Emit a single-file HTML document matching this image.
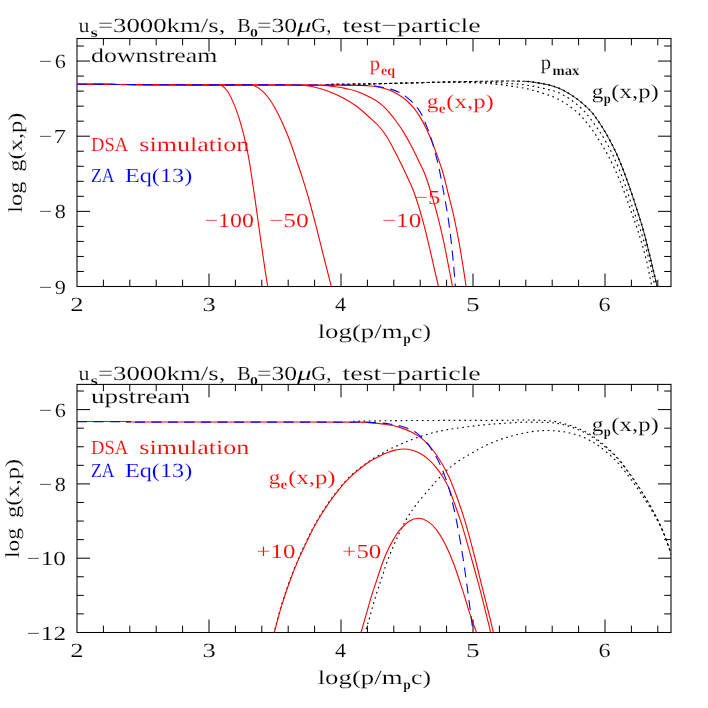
<!DOCTYPE html>
<html><head><meta charset="utf-8"><title>DSA test-particle spectra</title>
<style>html,body{margin:0;padding:0;background:#fff;}body{width:708px;height:708px;overflow:hidden;font-family:"Liberation Serif",serif;}svg{display:block;will-change:transform;transform:translateZ(0);}</style>
</head><body>
<svg width="708" height="708" viewBox="0 0 708 708" font-family="'Liberation Serif', serif" text-rendering="geometricPrecision">
<defs>
<clipPath id="ct"><rect x="77.00" y="38.50" width="594.00" height="248.00"/></clipPath>
<clipPath id="ctA"><rect x="77" y="38.6" width="448" height="247.9"/></clipPath>
<clipPath id="ctB"><rect x="525" y="38.6" width="146.3" height="247.9"/></clipPath>
<clipPath id="cb"><rect x="77.00" y="384.40" width="594.00" height="248.10"/></clipPath>
</defs>
<rect width="708" height="708" fill="#fff"/>
<text id="t0" x="78.53" y="31.90" font-size="20" fill="#000" stroke="#fff" stroke-width="0.15" textLength="10.95" lengthAdjust="spacingAndGlyphs">u</text>
<text id="t1" x="90.54" y="36.50" font-size="14" fill="#000" stroke="#fff" stroke-width="0.2" textLength="7.19" lengthAdjust="spacingAndGlyphs" font-weight="bold">s</text>
<text id="t2" x="97.98" y="31.90" font-size="20" fill="#000" stroke="#fff" stroke-width="0.15" textLength="127.45" lengthAdjust="spacingAndGlyphs">=3000km/s,</text>
<text id="t3" x="237.25" y="31.90" font-size="20" fill="#000" stroke="#fff" stroke-width="0.15" textLength="13.44" lengthAdjust="spacingAndGlyphs">B</text>
<text id="t4" x="250.12" y="36.90" font-size="12" fill="#000" stroke="#fff" stroke-width="0.2" textLength="7.93" lengthAdjust="spacingAndGlyphs" font-weight="bold">0</text>
<text id="t5" x="256.96" y="31.90" font-size="20" fill="#000" stroke="#fff" stroke-width="0.15" textLength="40.19" lengthAdjust="spacingAndGlyphs">=30</text>
<text id="t6" x="297.00" y="31.90" font-size="20" fill="#000" stroke="#fff" stroke-width="0.15" textLength="14.70" lengthAdjust="spacingAndGlyphs" font-style="italic">μ</text>
<text id="t7" x="311.33" y="31.90" font-size="20" fill="#000" stroke="#fff" stroke-width="0.15" textLength="20.01" lengthAdjust="spacingAndGlyphs">G,</text>
<text id="t8" x="342.59" y="31.90" font-size="20" fill="#000" stroke="#fff" stroke-width="0.15" textLength="138.12" lengthAdjust="spacingAndGlyphs">test−particle</text>
<text id="t9" x="78.53" y="380.40" font-size="20" fill="#000" stroke="#fff" stroke-width="0.15" textLength="10.95" lengthAdjust="spacingAndGlyphs">u</text>
<text id="t10" x="90.54" y="385.00" font-size="14" fill="#000" stroke="#fff" stroke-width="0.2" textLength="7.19" lengthAdjust="spacingAndGlyphs" font-weight="bold">s</text>
<text id="t11" x="97.98" y="380.40" font-size="20" fill="#000" stroke="#fff" stroke-width="0.15" textLength="127.45" lengthAdjust="spacingAndGlyphs">=3000km/s,</text>
<text id="t12" x="237.25" y="380.40" font-size="20" fill="#000" stroke="#fff" stroke-width="0.15" textLength="13.44" lengthAdjust="spacingAndGlyphs">B</text>
<text id="t13" x="250.12" y="385.40" font-size="12" fill="#000" stroke="#fff" stroke-width="0.2" textLength="7.93" lengthAdjust="spacingAndGlyphs" font-weight="bold">0</text>
<text id="t14" x="256.96" y="380.40" font-size="20" fill="#000" stroke="#fff" stroke-width="0.15" textLength="40.19" lengthAdjust="spacingAndGlyphs">=30</text>
<text id="t15" x="297.00" y="380.40" font-size="20" fill="#000" stroke="#fff" stroke-width="0.15" textLength="14.70" lengthAdjust="spacingAndGlyphs" font-style="italic">μ</text>
<text id="t16" x="311.33" y="380.40" font-size="20" fill="#000" stroke="#fff" stroke-width="0.15" textLength="20.01" lengthAdjust="spacingAndGlyphs">G,</text>
<text id="t17" x="342.59" y="380.40" font-size="20" fill="#000" stroke="#fff" stroke-width="0.15" textLength="138.12" lengthAdjust="spacingAndGlyphs">test−particle</text>
<text id="t18" x="317.70" y="337.90" font-size="20" fill="#000" stroke="#fff" stroke-width="0.15" textLength="84.82" lengthAdjust="spacingAndGlyphs">log(p/m</text>
<text id="t19" x="403.25" y="343.10" font-size="14" fill="#000" stroke="#fff" stroke-width="0.2" textLength="7.48" lengthAdjust="spacingAndGlyphs" font-weight="bold">p</text>
<text id="t20" x="411.10" y="337.90" font-size="20" fill="#000" stroke="#fff" stroke-width="0.15" textLength="19.90" lengthAdjust="spacingAndGlyphs">c)</text>
<text id="t21" x="77.00" y="311.10" font-size="20" fill="#000" stroke="#fff" stroke-width="0.15" textLength="13.31" lengthAdjust="spacingAndGlyphs" text-anchor="middle">2</text>
<text id="t22" x="209.29" y="311.10" font-size="20" fill="#000" stroke="#fff" stroke-width="0.15" textLength="13.31" lengthAdjust="spacingAndGlyphs" text-anchor="middle">3</text>
<text id="t23" x="340.52" y="311.10" font-size="20" fill="#000" stroke="#fff" stroke-width="0.15" textLength="11.09" lengthAdjust="spacingAndGlyphs" text-anchor="middle">4</text>
<text id="t24" x="472.73" y="311.10" font-size="20" fill="#000" stroke="#fff" stroke-width="0.15" textLength="13.67" lengthAdjust="spacingAndGlyphs" text-anchor="middle">5</text>
<text id="t25" x="604.59" y="311.10" font-size="20" fill="#000" stroke="#fff" stroke-width="0.15" textLength="12.10" lengthAdjust="spacingAndGlyphs" text-anchor="middle">6</text>
<text id="t26" x="317.70" y="684.00" font-size="20" fill="#000" stroke="#fff" stroke-width="0.15" textLength="84.82" lengthAdjust="spacingAndGlyphs">log(p/m</text>
<text id="t27" x="403.25" y="689.20" font-size="14" fill="#000" stroke="#fff" stroke-width="0.2" textLength="7.48" lengthAdjust="spacingAndGlyphs" font-weight="bold">p</text>
<text id="t28" x="411.10" y="684.00" font-size="20" fill="#000" stroke="#fff" stroke-width="0.15" textLength="19.90" lengthAdjust="spacingAndGlyphs">c)</text>
<text id="t29" x="77.00" y="657.20" font-size="20" fill="#000" stroke="#fff" stroke-width="0.15" textLength="13.31" lengthAdjust="spacingAndGlyphs" text-anchor="middle">2</text>
<text id="t30" x="209.29" y="657.20" font-size="20" fill="#000" stroke="#fff" stroke-width="0.15" textLength="13.31" lengthAdjust="spacingAndGlyphs" text-anchor="middle">3</text>
<text id="t31" x="340.52" y="657.20" font-size="20" fill="#000" stroke="#fff" stroke-width="0.15" textLength="11.09" lengthAdjust="spacingAndGlyphs" text-anchor="middle">4</text>
<text id="t32" x="472.73" y="657.20" font-size="20" fill="#000" stroke="#fff" stroke-width="0.15" textLength="13.67" lengthAdjust="spacingAndGlyphs" text-anchor="middle">5</text>
<text id="t33" x="604.59" y="657.20" font-size="20" fill="#000" stroke="#fff" stroke-width="0.15" textLength="12.10" lengthAdjust="spacingAndGlyphs" text-anchor="middle">6</text>
<text id="t34" x="22.40" y="212.68" font-size="20" fill="#000" stroke="#fff" stroke-width="0.15" textLength="30.99" lengthAdjust="spacingAndGlyphs" transform="rotate(-90 22.40 212.68)">log</text>
<text id="t35" x="22.40" y="171.73" font-size="20" fill="#000" stroke="#fff" stroke-width="0.15" textLength="59.28" lengthAdjust="spacingAndGlyphs" transform="rotate(-90 22.40 171.73)">g(x,p)</text>
<text id="t36" x="19.00" y="557.96" font-size="20" fill="#000" stroke="#fff" stroke-width="0.15" textLength="29.96" lengthAdjust="spacingAndGlyphs" transform="rotate(-90 19.00 557.96)">log</text>
<text id="t37" x="19.00" y="518.03" font-size="20" fill="#000" stroke="#fff" stroke-width="0.15" textLength="59.28" lengthAdjust="spacingAndGlyphs" transform="rotate(-90 19.00 518.03)">g(x,p)</text>
<text id="t38" x="65.98" y="68.05" font-size="20" fill="#000" stroke="#fff" stroke-width="0.15" textLength="11.11" lengthAdjust="spacingAndGlyphs" text-anchor="end">6</text>
<text id="t39" x="52.22" y="68.05" font-size="20" fill="#000" stroke="#fff" stroke-width="0.15" textLength="13.44" lengthAdjust="spacingAndGlyphs" text-anchor="end">−</text>
<text id="t40" x="66.04" y="143.20" font-size="20" fill="#000" stroke="#fff" stroke-width="0.15" textLength="12.22" lengthAdjust="spacingAndGlyphs" text-anchor="end">7</text>
<text id="t41" x="52.22" y="143.20" font-size="20" fill="#000" stroke="#fff" stroke-width="0.15" textLength="13.44" lengthAdjust="spacingAndGlyphs" text-anchor="end">−</text>
<text id="t42" x="65.96" y="218.35" font-size="20" fill="#000" stroke="#fff" stroke-width="0.15" textLength="11.11" lengthAdjust="spacingAndGlyphs" text-anchor="end">8</text>
<text id="t43" x="52.22" y="218.35" font-size="20" fill="#000" stroke="#fff" stroke-width="0.15" textLength="13.44" lengthAdjust="spacingAndGlyphs" text-anchor="end">−</text>
<text id="t44" x="65.97" y="293.50" font-size="20" fill="#000" stroke="#fff" stroke-width="0.15" textLength="11.11" lengthAdjust="spacingAndGlyphs" text-anchor="end">9</text>
<text id="t45" x="52.22" y="293.50" font-size="20" fill="#000" stroke="#fff" stroke-width="0.15" textLength="13.44" lengthAdjust="spacingAndGlyphs" text-anchor="end">−</text>
<text id="t46" x="65.98" y="416.60" font-size="20" fill="#000" stroke="#fff" stroke-width="0.15" textLength="11.11" lengthAdjust="spacingAndGlyphs" text-anchor="end">6</text>
<text id="t47" x="52.22" y="416.60" font-size="20" fill="#000" stroke="#fff" stroke-width="0.15" textLength="13.44" lengthAdjust="spacingAndGlyphs" text-anchor="end">−</text>
<text id="t48" x="65.96" y="490.90" font-size="20" fill="#000" stroke="#fff" stroke-width="0.15" textLength="11.11" lengthAdjust="spacingAndGlyphs" text-anchor="end">8</text>
<text id="t49" x="52.22" y="490.90" font-size="20" fill="#000" stroke="#fff" stroke-width="0.15" textLength="13.44" lengthAdjust="spacingAndGlyphs" text-anchor="end">−</text>
<text id="t50" x="65.93" y="565.20" font-size="20" fill="#000" stroke="#fff" stroke-width="0.15" textLength="25.18" lengthAdjust="spacingAndGlyphs" text-anchor="end">10</text>
<text id="t51" x="40.22" y="565.20" font-size="20" fill="#000" stroke="#fff" stroke-width="0.15" textLength="13.44" lengthAdjust="spacingAndGlyphs" text-anchor="end">−</text>
<text id="t52" x="66.09" y="639.50" font-size="20" fill="#000" stroke="#fff" stroke-width="0.15" textLength="25.35" lengthAdjust="spacingAndGlyphs" text-anchor="end">12</text>
<text id="t53" x="40.22" y="639.50" font-size="20" fill="#000" stroke="#fff" stroke-width="0.15" textLength="13.44" lengthAdjust="spacingAndGlyphs" text-anchor="end">−</text>
<text id="t54" x="91.08" y="61.50" font-size="20" fill="#000" stroke="#fff" stroke-width="0.15" textLength="126.23" lengthAdjust="spacingAndGlyphs">downstream</text>
<text id="t55" x="91.09" y="402.50" font-size="20" fill="#000" stroke="#fff" stroke-width="0.15" textLength="99.32" lengthAdjust="spacingAndGlyphs">upstream</text>
<text id="t56" x="91.05" y="151.10" font-size="20" fill="#ff0000" stroke="#fff" stroke-width="0.15" textLength="36.95" lengthAdjust="spacingAndGlyphs">DSA</text>
<text id="t57" x="139.28" y="151.10" font-size="20" fill="#ff0000" stroke="#fff" stroke-width="0.15" textLength="110.13" lengthAdjust="spacingAndGlyphs">simulation</text>
<text id="t58" x="91.02" y="181.60" font-size="20" fill="#0000ff" stroke="#fff" stroke-width="0.15" textLength="23.54" lengthAdjust="spacingAndGlyphs">ZA</text>
<text id="t59" x="124.97" y="181.60" font-size="20" fill="#0000ff" stroke="#fff" stroke-width="0.15" textLength="67.27" lengthAdjust="spacingAndGlyphs">Eq(13)</text>
<text id="t60" x="91.05" y="454.20" font-size="20" fill="#ff0000" stroke="#fff" stroke-width="0.15" textLength="36.95" lengthAdjust="spacingAndGlyphs">DSA</text>
<text id="t61" x="139.28" y="454.20" font-size="20" fill="#ff0000" stroke="#fff" stroke-width="0.15" textLength="110.13" lengthAdjust="spacingAndGlyphs">simulation</text>
<text id="t62" x="91.02" y="476.80" font-size="20" fill="#0000ff" stroke="#fff" stroke-width="0.15" textLength="23.54" lengthAdjust="spacingAndGlyphs">ZA</text>
<text id="t63" x="124.97" y="476.80" font-size="20" fill="#0000ff" stroke="#fff" stroke-width="0.15" textLength="67.27" lengthAdjust="spacingAndGlyphs">Eq(13)</text>
<text id="t64" x="204.67" y="226.80" font-size="20" fill="#ff0000" stroke="#fff" stroke-width="0.15" textLength="49.27" lengthAdjust="spacingAndGlyphs">−100</text>
<text id="t65" x="268.98" y="226.80" font-size="20" fill="#ff0000" stroke="#fff" stroke-width="0.15" textLength="39.90" lengthAdjust="spacingAndGlyphs">−50</text>
<text id="t66" x="381.95" y="226.80" font-size="20" fill="#ff0000" stroke="#fff" stroke-width="0.15" textLength="39.27" lengthAdjust="spacingAndGlyphs">−10</text>
<text id="t67" x="414.10" y="203.90" font-size="20" fill="#ff0000" stroke="#fff" stroke-width="0.15" textLength="26.39" lengthAdjust="spacingAndGlyphs">−5</text>
<text id="t68" x="369.75" y="69.50" font-size="20" fill="#ff0000" stroke="#fff" stroke-width="0.15" textLength="10.31" lengthAdjust="spacingAndGlyphs">p</text>
<text id="t69" x="380.96" y="74.60" font-size="14" fill="#ff0000" stroke="#fff" stroke-width="0.2" textLength="14.12" lengthAdjust="spacingAndGlyphs" font-weight="bold">eq</text>
<text id="t70" x="540.75" y="69.30" font-size="20" fill="#000" stroke="#fff" stroke-width="0.15" textLength="10.31" lengthAdjust="spacingAndGlyphs">p</text>
<text id="t71" x="552.43" y="74.60" font-size="14" fill="#000" stroke="#fff" stroke-width="0.2" textLength="26.91" lengthAdjust="spacingAndGlyphs" font-weight="bold">max</text>
<text id="t72" x="426.85" y="107.70" font-size="20" fill="#ff0000" stroke="#fff" stroke-width="0.15" textLength="11.69" lengthAdjust="spacingAndGlyphs">g</text>
<text id="t73" x="438.85" y="113.10" font-size="14" fill="#ff0000" stroke="#fff" stroke-width="0.2" textLength="6.82" lengthAdjust="spacingAndGlyphs" font-weight="bold">e</text>
<text id="t74" x="446.37" y="107.70" font-size="20" fill="#ff0000" stroke="#fff" stroke-width="0.15" textLength="47.37" lengthAdjust="spacingAndGlyphs">(x,p)</text>
<text id="t75" x="591.85" y="97.50" font-size="20" fill="#000" stroke="#fff" stroke-width="0.15" textLength="11.69" lengthAdjust="spacingAndGlyphs">g</text>
<text id="t76" x="603.82" y="102.90" font-size="14" fill="#000" stroke="#fff" stroke-width="0.2" textLength="7.01" lengthAdjust="spacingAndGlyphs" font-weight="bold">p</text>
<text id="t77" x="611.37" y="97.50" font-size="20" fill="#000" stroke="#fff" stroke-width="0.15" textLength="47.37" lengthAdjust="spacingAndGlyphs">(x,p)</text>
<text id="t78" x="268.68" y="483.90" font-size="20" fill="#ff0000" stroke="#fff" stroke-width="0.15" textLength="11.57" lengthAdjust="spacingAndGlyphs">g</text>
<text id="t79" x="280.61" y="489.30" font-size="14" fill="#ff0000" stroke="#fff" stroke-width="0.2" textLength="6.82" lengthAdjust="spacingAndGlyphs" font-weight="bold">e</text>
<text id="t80" x="288.16" y="483.90" font-size="20" fill="#ff0000" stroke="#fff" stroke-width="0.15" textLength="47.40" lengthAdjust="spacingAndGlyphs">(x,p)</text>
<text id="t81" x="591.85" y="430.70" font-size="20" fill="#000" stroke="#fff" stroke-width="0.15" textLength="11.69" lengthAdjust="spacingAndGlyphs">g</text>
<text id="t82" x="603.82" y="436.10" font-size="14" fill="#000" stroke="#fff" stroke-width="0.2" textLength="7.01" lengthAdjust="spacingAndGlyphs" font-weight="bold">p</text>
<text id="t83" x="611.37" y="430.70" font-size="20" fill="#000" stroke="#fff" stroke-width="0.15" textLength="47.37" lengthAdjust="spacingAndGlyphs">(x,p)</text>
<text id="t84" x="256.63" y="558.00" font-size="20" fill="#ff0000" stroke="#fff" stroke-width="0.15" textLength="38.73" lengthAdjust="spacingAndGlyphs">+10</text>
<text id="t85" x="342.37" y="558.00" font-size="20" fill="#ff0000" stroke="#fff" stroke-width="0.15" textLength="38.91" lengthAdjust="spacingAndGlyphs">+50</text>
<rect x="77.00" y="38.50" width="594.00" height="248.00" fill="none" stroke="#000" stroke-width="1.05"/>
<path d="M103.40 286.50 L103.40 279.70M103.40 38.50 L103.40 45.30M129.80 286.50 L129.80 279.70M129.80 38.50 L129.80 45.30M156.20 286.50 L156.20 279.70M156.20 38.50 L156.20 45.30M182.60 286.50 L182.60 279.70M182.60 38.50 L182.60 45.30M209.00 286.50 L209.00 273.50M209.00 38.50 L209.00 51.50M235.40 286.50 L235.40 279.70M235.40 38.50 L235.40 45.30M261.80 286.50 L261.80 279.70M261.80 38.50 L261.80 45.30M288.20 286.50 L288.20 279.70M288.20 38.50 L288.20 45.30M314.60 286.50 L314.60 279.70M314.60 38.50 L314.60 45.30M341.00 286.50 L341.00 273.50M341.00 38.50 L341.00 51.50M367.40 286.50 L367.40 279.70M367.40 38.50 L367.40 45.30M393.80 286.50 L393.80 279.70M393.80 38.50 L393.80 45.30M420.20 286.50 L420.20 279.70M420.20 38.50 L420.20 45.30M446.60 286.50 L446.60 279.70M446.60 38.50 L446.60 45.30M473.00 286.50 L473.00 273.50M473.00 38.50 L473.00 51.50M499.40 286.50 L499.40 279.70M499.40 38.50 L499.40 45.30M525.80 286.50 L525.80 279.70M525.80 38.50 L525.80 45.30M552.20 286.50 L552.20 279.70M552.20 38.50 L552.20 45.30M578.60 286.50 L578.60 279.70M578.60 38.50 L578.60 45.30M605.00 286.50 L605.00 273.50M605.00 38.50 L605.00 51.50M631.40 286.50 L631.40 279.70M631.40 38.50 L631.40 45.30M657.80 286.50 L657.80 279.70M657.80 38.50 L657.80 45.30M77.00 271.47 L83.80 271.47M671.00 271.47 L664.20 271.47M77.00 256.44 L83.80 256.44M671.00 256.44 L664.20 256.44M77.00 241.41 L83.80 241.41M671.00 241.41 L664.20 241.41M77.00 226.38 L83.80 226.38M671.00 226.38 L664.20 226.38M77.00 211.35 L90.00 211.35M671.00 211.35 L658.00 211.35M77.00 196.32 L83.80 196.32M671.00 196.32 L664.20 196.32M77.00 181.29 L83.80 181.29M671.00 181.29 L664.20 181.29M77.00 166.26 L83.80 166.26M671.00 166.26 L664.20 166.26M77.00 151.23 L83.80 151.23M671.00 151.23 L664.20 151.23M77.00 136.20 L90.00 136.20M671.00 136.20 L658.00 136.20M77.00 121.17 L83.80 121.17M671.00 121.17 L664.20 121.17M77.00 106.14 L83.80 106.14M671.00 106.14 L664.20 106.14M77.00 91.11 L83.80 91.11M671.00 91.11 L664.20 91.11M77.00 76.08 L83.80 76.08M671.00 76.08 L664.20 76.08M77.00 61.05 L90.00 61.05M671.00 61.05 L658.00 61.05M77.00 46.02 L83.80 46.02M671.00 46.02 L664.20 46.02" stroke="#000" stroke-width="1.00" fill="none"/>
<rect x="77.00" y="384.40" width="594.00" height="248.10" fill="none" stroke="#000" stroke-width="1.05"/>
<path d="M103.40 632.50 L103.40 625.70M103.40 384.40 L103.40 391.20M129.80 632.50 L129.80 625.70M129.80 384.40 L129.80 391.20M156.20 632.50 L156.20 625.70M156.20 384.40 L156.20 391.20M182.60 632.50 L182.60 625.70M182.60 384.40 L182.60 391.20M209.00 632.50 L209.00 619.50M209.00 384.40 L209.00 397.40M235.40 632.50 L235.40 625.70M235.40 384.40 L235.40 391.20M261.80 632.50 L261.80 625.70M261.80 384.40 L261.80 391.20M288.20 632.50 L288.20 625.70M288.20 384.40 L288.20 391.20M314.60 632.50 L314.60 625.70M314.60 384.40 L314.60 391.20M341.00 632.50 L341.00 619.50M341.00 384.40 L341.00 397.40M367.40 632.50 L367.40 625.70M367.40 384.40 L367.40 391.20M393.80 632.50 L393.80 625.70M393.80 384.40 L393.80 391.20M420.20 632.50 L420.20 625.70M420.20 384.40 L420.20 391.20M446.60 632.50 L446.60 625.70M446.60 384.40 L446.60 391.20M473.00 632.50 L473.00 619.50M473.00 384.40 L473.00 397.40M499.40 632.50 L499.40 625.70M499.40 384.40 L499.40 391.20M525.80 632.50 L525.80 625.70M525.80 384.40 L525.80 391.20M552.20 632.50 L552.20 625.70M552.20 384.40 L552.20 391.20M578.60 632.50 L578.60 625.70M578.60 384.40 L578.60 391.20M605.00 632.50 L605.00 619.50M605.00 384.40 L605.00 397.40M631.40 632.50 L631.40 625.70M631.40 384.40 L631.40 391.20M657.80 632.50 L657.80 625.70M657.80 384.40 L657.80 391.20M77.00 613.92 L83.80 613.92M671.00 613.92 L664.20 613.92M77.00 595.35 L83.80 595.35M671.00 595.35 L664.20 595.35M77.00 576.77 L83.80 576.77M671.00 576.77 L664.20 576.77M77.00 558.20 L90.00 558.20M671.00 558.20 L658.00 558.20M77.00 539.62 L83.80 539.62M671.00 539.62 L664.20 539.62M77.00 521.05 L83.80 521.05M671.00 521.05 L664.20 521.05M77.00 502.48 L83.80 502.48M671.00 502.48 L664.20 502.48M77.00 483.90 L90.00 483.90M671.00 483.90 L658.00 483.90M77.00 465.33 L83.80 465.33M671.00 465.33 L664.20 465.33M77.00 446.75 L83.80 446.75M671.00 446.75 L664.20 446.75M77.00 428.18 L83.80 428.18M671.00 428.18 L664.20 428.18M77.00 409.60 L90.00 409.60M671.00 409.60 L658.00 409.60M77.00 391.02 L83.80 391.02M671.00 391.02 L664.20 391.02" stroke="#000" stroke-width="1.00" fill="none"/>
<path d="M326.00 84.50 C330.00 84.45 342.67 84.30 350.00 84.20 C357.33 84.10 361.67 84.07 370.00 83.90 C378.33 83.73 388.33 83.48 400.00 83.20 C411.67 82.92 430.00 82.40 440.00 82.20 C450.00 82.00 453.33 82.00 460.00 82.00 C466.67 82.00 474.78 82.13 480.00 82.20 C485.22 82.27 487.53 82.27 491.30 82.40 C495.07 82.53 498.83 82.77 502.60 83.00 C506.37 83.23 510.13 83.48 513.90 83.80 C517.67 84.12 521.43 84.38 525.20 84.90 C528.97 85.42 532.73 86.15 536.50 86.90 C540.27 87.65 544.77 88.68 547.80 89.40 C550.83 90.12 552.78 90.58 554.70 91.20 C556.62 91.82 557.75 92.38 559.30 93.10 C560.85 93.82 562.45 94.65 564.00 95.50 C565.55 96.35 567.12 97.25 568.60 98.20 C570.08 99.15 571.48 100.13 572.90 101.20 C574.32 102.27 575.68 103.40 577.10 104.60 C578.52 105.80 580.05 107.13 581.40 108.40 C582.75 109.67 584.00 110.87 585.20 112.20 C586.40 113.53 587.48 114.98 588.60 116.40 C589.72 117.82 590.85 119.28 591.90 120.70 C592.95 122.12 593.87 123.48 594.90 124.90 C595.93 126.32 597.08 127.75 598.10 129.20 C599.12 130.65 600.05 132.12 601.00 133.60 C601.95 135.08 601.70 134.28 603.80 138.10 C605.90 141.92 610.23 149.18 613.60 156.50 C616.97 163.82 620.73 173.17 624.00 182.00 C627.27 190.83 630.28 200.93 633.20 209.50 C636.12 218.07 638.90 225.13 641.50 233.40 C644.10 241.67 646.57 250.25 648.80 259.10 C651.03 267.95 653.53 280.52 654.90 286.50 C656.27 292.48 656.65 293.58 657.00 295.00" fill="none" stroke="#000" stroke-width="1.15" stroke-dasharray="1.7 3.6" clip-path="url(#ct)"/>
<path d="M326.00 84.50 C330.00 84.45 342.67 84.30 350.00 84.20 C357.33 84.10 361.67 84.07 370.00 83.90 C378.33 83.73 388.33 83.48 400.00 83.20 C411.67 82.92 430.00 82.33 440.00 82.20 C450.00 82.07 453.33 82.27 460.00 82.40 C466.67 82.53 474.78 82.77 480.00 83.00 C485.22 83.23 487.53 83.48 491.30 83.80 C495.07 84.12 498.83 84.45 502.60 84.90 C506.37 85.35 510.13 85.92 513.90 86.50 C517.67 87.08 521.43 87.62 525.20 88.40 C528.97 89.18 532.73 90.12 536.50 91.20 C540.27 92.28 544.70 93.83 547.80 94.90 C550.90 95.97 553.03 96.72 555.10 97.60 C557.17 98.48 558.58 99.32 560.20 100.20 C561.82 101.08 563.32 101.97 564.80 102.90 C566.28 103.83 567.68 104.75 569.10 105.80 C570.52 106.85 571.90 108.07 573.30 109.20 C574.70 110.33 576.15 111.40 577.50 112.60 C578.85 113.80 580.20 115.12 581.40 116.40 C582.60 117.68 583.58 118.98 584.70 120.30 C585.82 121.62 586.97 122.90 588.10 124.30 C589.23 125.70 590.43 127.25 591.50 128.70 C592.57 130.15 593.47 131.42 594.50 133.00 C595.53 134.58 595.40 134.38 597.70 138.20 C600.00 142.02 604.52 148.60 608.30 155.90 C612.08 163.20 616.70 173.07 620.40 182.00 C624.10 190.93 627.45 200.93 630.50 209.50 C633.55 218.07 636.10 225.13 638.70 233.40 C641.30 241.67 643.90 250.25 646.10 259.10 C648.30 267.95 650.58 280.52 651.90 286.50 C653.22 292.48 653.65 293.58 654.00 295.00" fill="none" stroke="#000" stroke-width="1.15" stroke-dasharray="1.7 3.6" clip-path="url(#ct)"/>
<path d="M326.00 84.50 C330.00 84.45 342.67 84.30 350.00 84.20 C357.33 84.10 361.67 84.07 370.00 83.90 C378.33 83.73 388.33 83.48 400.00 83.20 C411.67 82.92 426.67 82.52 440.00 82.20 C453.33 81.88 469.57 81.48 480.00 81.30 C490.43 81.12 495.07 81.10 502.60 81.10 C510.13 81.10 519.55 81.03 525.20 81.30 C530.85 81.57 532.73 82.13 536.50 82.70 C540.27 83.27 544.13 83.80 547.80 84.70 C551.47 85.60 555.32 86.83 558.50 88.10 C561.68 89.37 564.08 90.68 566.90 92.30 C569.72 93.92 572.57 95.75 575.40 97.80 C578.23 99.85 581.07 102.05 583.90 104.60 C586.73 107.15 589.58 109.72 592.40 113.10 C595.22 116.48 598.08 120.72 600.80 124.90 C603.52 129.08 605.92 133.03 608.70 138.20 C611.48 143.37 614.33 148.60 617.50 155.90 C620.67 163.20 624.47 173.07 627.70 182.00 C630.93 190.93 634.15 200.93 636.90 209.50 C639.65 218.07 641.92 225.13 644.20 233.40 C646.48 241.67 648.45 250.25 650.60 259.10 C652.75 267.95 655.70 280.52 657.10 286.50 C658.50 292.48 658.68 293.58 659.00 295.00" fill="none" stroke="#000" stroke-width="1.05" stroke-dasharray="3.2 2.1" clip-path="url(#ctA)"/>
<path d="M326.00 84.50 C330.00 84.45 342.67 84.30 350.00 84.20 C357.33 84.10 361.67 84.07 370.00 83.90 C378.33 83.73 388.33 83.48 400.00 83.20 C411.67 82.92 426.67 82.52 440.00 82.20 C453.33 81.88 469.57 81.48 480.00 81.30 C490.43 81.12 495.07 81.10 502.60 81.10 C510.13 81.10 519.55 81.03 525.20 81.30 C530.85 81.57 532.73 82.13 536.50 82.70 C540.27 83.27 544.13 83.80 547.80 84.70 C551.47 85.60 555.32 86.83 558.50 88.10 C561.68 89.37 564.08 90.68 566.90 92.30 C569.72 93.92 572.57 95.75 575.40 97.80 C578.23 99.85 581.07 102.05 583.90 104.60 C586.73 107.15 589.58 109.72 592.40 113.10 C595.22 116.48 598.08 120.72 600.80 124.90 C603.52 129.08 605.92 133.03 608.70 138.20 C611.48 143.37 614.33 148.60 617.50 155.90 C620.67 163.20 624.47 173.07 627.70 182.00 C630.93 190.93 634.15 200.93 636.90 209.50 C639.65 218.07 641.92 225.13 644.20 233.40 C646.48 241.67 648.45 250.25 650.60 259.10 C652.75 267.95 655.70 280.52 657.10 286.50 C658.50 292.48 658.68 293.58 659.00 295.00" fill="none" stroke="#000" stroke-width="0.90" clip-path="url(#ctB)"/>
<path d="M326.00 84.50 C330.00 84.45 342.67 84.30 350.00 84.20 C357.33 84.10 361.67 84.07 370.00 83.90 C378.33 83.73 388.33 83.48 400.00 83.20 C411.67 82.92 426.67 82.52 440.00 82.20 C453.33 81.88 469.57 81.48 480.00 81.30 C490.43 81.12 495.07 81.10 502.60 81.10 C510.13 81.10 519.55 81.03 525.20 81.30 C530.85 81.57 532.73 82.13 536.50 82.70 C540.27 83.27 544.13 83.80 547.80 84.70 C551.47 85.60 555.32 86.83 558.50 88.10 C561.68 89.37 564.08 90.68 566.90 92.30 C569.72 93.92 572.57 95.75 575.40 97.80 C578.23 99.85 581.07 102.05 583.90 104.60 C586.73 107.15 589.58 109.72 592.40 113.10 C595.22 116.48 598.08 120.72 600.80 124.90 C603.52 129.08 605.92 133.03 608.70 138.20 C611.48 143.37 614.33 148.60 617.50 155.90 C620.67 163.20 624.47 173.07 627.70 182.00 C630.93 190.93 634.15 200.93 636.90 209.50 C639.65 218.07 641.92 225.13 644.20 233.40 C646.48 241.67 648.45 250.25 650.60 259.10 C652.75 267.95 655.70 280.52 657.10 286.50 C658.50 292.48 658.68 293.58 659.00 295.00" fill="none" stroke="#000" stroke-width="1.60" stroke-dasharray="1.7 3.6" clip-path="url(#ctB)"/>
<path d="M77.00 84.20 C82.50 84.23 97.83 84.32 110.00 84.40 C122.17 84.48 132.50 84.62 150.00 84.70 C167.50 84.78 203.13 84.80 215.00 84.89 C226.87 84.97 219.12 84.15 221.20 85.20 C223.28 86.25 225.38 88.08 227.50 91.20 C229.62 94.32 231.95 99.32 233.90 103.90 C235.85 108.48 237.62 113.75 239.20 118.70 C240.78 123.65 241.98 127.95 243.40 133.60 C244.82 139.25 246.48 146.53 247.70 152.60 C248.92 158.67 249.42 161.80 250.70 170.00 C251.98 178.20 253.73 190.15 255.40 201.80 C257.07 213.45 259.10 228.60 260.70 239.90 C262.30 251.20 263.83 261.83 265.00 269.60 C266.17 277.37 267.03 282.27 267.70 286.50 C268.37 290.73 268.78 293.58 269.00 295.00" fill="none" stroke="#ff0000" stroke-width="1.10" clip-path="url(#ct)"/>
<path d="M77.00 84.20 C82.50 84.23 97.83 84.32 110.00 84.40 C122.17 84.48 131.67 84.62 150.00 84.70 C168.33 84.78 204.17 84.86 220.00 84.90 C235.83 84.94 239.50 84.90 245.00 84.95 C250.50 85.00 250.27 84.34 253.00 85.20 C255.73 86.06 258.58 87.68 261.40 90.10 C264.22 92.52 267.07 95.63 269.90 99.70 C272.73 103.77 275.93 109.73 278.40 114.50 C280.87 119.27 282.58 123.35 284.70 128.30 C286.82 133.25 288.97 138.38 291.10 144.20 C293.23 150.02 295.77 158.07 297.50 163.20 C299.23 168.33 299.68 169.28 301.50 175.00 C303.32 180.72 305.83 188.45 308.40 197.50 C310.97 206.55 314.25 219.05 316.90 229.30 C319.55 239.55 321.90 249.47 324.30 259.00 C326.70 268.53 329.77 280.50 331.30 286.50 C332.83 292.50 333.13 293.58 333.50 295.00" fill="none" stroke="#ff0000" stroke-width="1.10" clip-path="url(#ct)"/>
<path d="M77.00 84.20 C82.50 84.23 97.83 84.32 110.00 84.40 C122.17 84.48 131.67 84.62 150.00 84.70 C168.33 84.78 196.67 84.84 220.00 84.90 C243.33 84.96 275.97 84.95 290.00 85.03 C304.03 85.11 300.18 85.07 304.20 85.40 C308.22 85.73 310.10 86.03 314.10 87.00 C318.10 87.97 323.48 89.43 328.20 91.20 C332.92 92.97 337.68 95.08 342.40 97.60 C347.12 100.12 351.80 102.83 356.50 106.30 C361.20 109.77 366.68 114.87 370.60 118.40 C374.52 121.93 377.25 124.35 380.00 127.50 C382.75 130.65 384.75 133.55 387.10 137.30 C389.45 141.05 391.75 145.55 394.10 150.00 C396.45 154.45 399.15 159.83 401.20 164.00 C403.25 168.17 404.28 170.33 406.40 175.00 C408.52 179.67 411.23 184.63 413.90 192.00 C416.57 199.37 419.85 210.15 422.40 219.20 C424.95 228.25 427.23 238.12 429.20 246.30 C431.17 254.48 432.65 261.60 434.20 268.30 C435.75 275.00 437.45 282.05 438.50 286.50 C439.55 290.95 440.17 293.58 440.50 295.00" fill="none" stroke="#ff0000" stroke-width="1.10" clip-path="url(#ct)"/>
<path d="M77.00 84.20 C82.50 84.23 97.83 84.32 110.00 84.40 C122.17 84.48 131.67 84.62 150.00 84.70 C168.33 84.78 195.00 84.84 220.00 84.90 C245.00 84.96 283.00 84.98 300.00 85.05 C317.00 85.12 316.07 85.01 322.00 85.30 C327.93 85.59 331.60 86.25 335.60 86.80 C339.60 87.35 342.52 87.85 346.00 88.60 C349.48 89.35 352.40 89.80 356.50 91.30 C360.60 92.80 366.68 95.58 370.60 97.60 C374.52 99.62 377.02 101.05 380.00 103.40 C382.98 105.75 385.68 108.55 388.50 111.70 C391.32 114.85 394.32 118.77 396.90 122.30 C399.48 125.83 401.63 129.02 404.00 132.90 C406.37 136.78 408.75 141.13 411.10 145.60 C413.45 150.07 415.75 154.80 418.10 159.70 C420.45 164.60 423.08 169.62 425.20 175.00 C427.32 180.38 428.73 185.20 430.80 192.00 C432.87 198.80 435.47 207.60 437.60 215.80 C439.73 224.00 441.77 232.73 443.60 241.20 C445.43 249.67 447.12 259.05 448.60 266.60 C450.08 274.15 451.57 281.77 452.50 286.50 C453.43 291.23 453.92 293.58 454.20 295.00" fill="none" stroke="#ff0000" stroke-width="1.10" clip-path="url(#ct)"/>
<path d="M77.00 84.20 C82.50 84.23 97.83 84.32 110.00 84.40 C122.17 84.48 131.67 84.62 150.00 84.70 C168.33 84.78 195.00 84.84 220.00 84.90 C245.00 84.96 285.00 85.02 300.00 85.05 C315.00 85.08 303.33 85.04 310.00 85.05 C316.67 85.07 331.47 85.08 340.00 85.15 C348.53 85.22 356.10 85.36 361.20 85.50 C366.30 85.64 367.47 85.68 370.60 86.00 C373.73 86.32 377.02 86.77 380.00 87.40 C382.98 88.03 385.68 88.73 388.50 89.80 C391.32 90.87 394.08 92.18 396.90 93.80 C399.72 95.42 402.57 97.10 405.40 99.50 C408.23 101.90 411.30 105.02 413.90 108.20 C416.50 111.38 418.88 115.10 421.00 118.60 C423.12 122.10 424.72 125.20 426.60 129.20 C428.48 133.20 430.53 138.20 432.30 142.60 C434.07 147.00 435.80 151.73 437.20 155.60 C438.60 159.47 439.63 162.57 440.70 165.80 C441.77 169.03 442.42 170.63 443.60 175.00 C444.78 179.37 446.12 185.20 447.80 192.00 C449.48 198.80 451.87 207.60 453.70 215.80 C455.53 224.00 457.23 232.73 458.80 241.20 C460.37 249.67 461.88 259.05 463.10 266.60 C464.32 274.15 465.38 281.77 466.10 286.50 C466.82 291.23 467.18 293.58 467.40 295.00" fill="none" stroke="#ff0000" stroke-width="1.10" clip-path="url(#ct)"/>
<path d="M77.00 84.20 C82.50 84.23 97.83 84.32 110.00 84.40 C122.17 84.48 135.00 84.63 150.00 84.70 C165.00 84.77 168.33 84.79 200.00 84.84 C231.67 84.89 313.13 84.92 340.00 85.00 C366.87 85.08 355.37 85.13 361.20 85.30 C367.03 85.47 370.10 85.37 375.00 86.00 C379.90 86.63 386.47 87.98 390.60 89.10 C394.73 90.22 397.10 91.32 399.80 92.70 C402.50 94.08 404.57 95.68 406.80 97.40 C409.03 99.12 411.32 101.08 413.20 103.00 C415.08 104.92 416.57 106.73 418.10 108.90 C419.63 111.07 421.15 113.53 422.40 116.00 C423.65 118.47 424.55 121.12 425.60 123.70 C426.65 126.28 427.77 129.02 428.70 131.50 C429.63 133.98 430.37 136.02 431.20 138.60 C432.03 141.18 432.93 144.30 433.70 147.00 C434.47 149.70 435.10 152.08 435.80 154.80 C436.50 157.52 437.27 160.60 437.90 163.30 C438.53 166.00 439.02 168.22 439.60 171.00 C440.18 173.78 440.73 176.50 441.40 180.00 C442.07 183.50 442.53 186.03 443.60 192.00 C444.67 197.97 446.53 207.60 447.80 215.80 C449.07 224.00 450.22 232.73 451.20 241.20 C452.18 249.67 453.00 259.05 453.70 266.60 C454.40 274.15 455.02 281.77 455.40 286.50 C455.78 291.23 455.90 293.58 456.00 295.00" fill="none" stroke="#0000ff" stroke-width="1.10" stroke-dasharray="10 6.5" clip-path="url(#ct)"/>
<path d="M353.00 421.30 C355.83 421.25 362.17 421.12 370.00 421.00 C377.83 420.88 386.67 420.70 400.00 420.60 C413.33 420.50 433.33 420.43 450.00 420.40 C466.67 420.37 487.43 420.47 500.00 420.40 C512.57 420.33 516.92 419.90 525.40 420.00 C533.88 420.10 544.53 420.40 550.90 421.00 C557.27 421.60 559.37 422.50 563.60 423.60 C567.83 424.70 572.07 425.92 576.30 427.60 C580.53 429.28 585.08 431.38 589.00 433.70 C592.92 436.02 595.37 437.85 599.80 441.50 C604.23 445.15 610.67 450.32 615.60 455.60 C620.53 460.88 625.12 467.33 629.40 473.20 C633.68 479.07 637.35 484.52 641.30 490.80 C645.25 497.08 649.48 504.17 653.10 510.90 C656.72 517.63 660.02 524.12 663.00 531.20 C665.98 538.28 668.83 547.27 671.00 553.40 C673.17 559.53 675.17 565.57 676.00 568.00" fill="none" stroke="#000" stroke-width="1.10" stroke-dasharray="1.7 3.6" clip-path="url(#cb)"/>
<path d="M265.80 660.00 C267.15 655.45 271.37 641.62 273.90 632.70 C276.43 623.78 278.40 615.12 281.00 606.50 C283.60 597.88 286.68 588.78 289.50 581.00 C292.32 573.22 295.08 566.40 297.90 559.80 C300.72 553.20 303.57 547.30 306.40 541.40 C309.23 535.50 311.60 530.28 314.90 524.40 C318.20 518.52 322.43 511.75 326.20 506.10 C329.97 500.45 333.73 495.23 337.50 490.50 C341.27 485.77 345.03 481.48 348.80 477.70 C352.57 473.92 356.33 470.80 360.10 467.80 C363.87 464.80 367.70 462.10 371.40 459.70 C375.10 457.30 379.00 455.28 382.30 453.40 C385.60 451.52 387.37 450.25 391.20 448.40 C395.03 446.55 400.60 444.23 405.30 442.30 C410.00 440.37 414.68 438.42 419.40 436.80 C424.12 435.18 428.88 433.80 433.60 432.60 C438.32 431.40 442.52 430.50 447.70 429.60 C452.88 428.70 459.03 427.97 464.70 427.20 C470.37 426.43 475.82 425.60 481.70 425.00 C487.58 424.40 492.72 424.07 500.00 423.60 C507.28 423.13 516.92 422.35 525.40 422.20 C533.88 422.05 544.53 422.27 550.90 422.70 C557.27 423.13 559.37 423.77 563.60 424.80 C567.83 425.83 572.07 427.20 576.30 428.90 C580.53 430.60 585.08 432.72 589.00 435.00 C592.92 437.28 595.37 439.03 599.80 442.60 C604.23 446.17 610.67 451.20 615.60 456.40 C620.53 461.60 625.12 468.00 629.40 473.80 C633.68 479.60 637.35 484.97 641.30 491.20 C645.25 497.43 649.48 504.50 653.10 511.20 C656.72 517.90 660.02 524.35 663.00 531.40 C665.98 538.45 668.83 547.40 671.00 553.50 C673.17 559.60 675.17 565.58 676.00 568.00" fill="none" stroke="#000" stroke-width="1.10" stroke-dasharray="1.7 3.6" clip-path="url(#cb)"/>
<path d="M358.00 660.00 C359.20 655.45 363.15 640.18 365.20 632.70 C367.25 625.22 368.52 621.32 370.30 615.10 C372.08 608.88 374.02 601.52 375.90 595.40 C377.78 589.28 379.72 584.05 381.60 578.40 C383.48 572.75 384.82 567.83 387.20 561.50 C389.58 555.17 392.75 547.35 395.90 540.40 C399.05 533.45 402.70 525.77 406.10 519.80 C409.50 513.83 412.20 510.00 416.30 504.60 C420.40 499.20 426.65 492.10 430.70 487.40 C434.75 482.70 437.53 479.60 440.60 476.40 C443.67 473.20 446.03 470.80 449.10 468.20 C452.17 465.60 455.27 463.30 459.00 460.80 C462.73 458.30 467.15 455.70 471.50 453.20 C475.85 450.70 480.35 448.07 485.10 445.80 C489.85 443.53 495.40 441.27 500.00 439.60 C504.60 437.93 508.47 436.95 512.70 435.80 C516.93 434.65 521.17 433.52 525.40 432.70 C529.63 431.88 533.85 431.25 538.10 430.90 C542.35 430.55 546.65 430.45 550.90 430.60 C555.15 430.75 559.37 431.12 563.60 431.80 C567.83 432.48 572.07 433.33 576.30 434.70 C580.53 436.07 585.08 438.00 589.00 440.00 C592.92 442.00 595.37 443.28 599.80 446.70 C604.23 450.12 610.67 455.40 615.60 460.50 C620.53 465.60 625.12 471.70 629.40 477.30 C633.68 482.90 637.35 488.17 641.30 494.10 C645.25 500.03 649.48 506.55 653.10 512.90 C656.72 519.25 660.02 525.38 663.00 532.20 C665.98 539.02 668.83 547.83 671.00 553.80 C673.17 559.77 675.17 565.63 676.00 568.00" fill="none" stroke="#000" stroke-width="1.10" stroke-dasharray="1.7 3.6" clip-path="url(#cb)"/>
<path d="M77.00 421.50 C85.50 421.50 117.50 421.43 128.00 421.50 C138.50 421.57 111.33 421.87 140.00 421.95 C168.67 422.03 263.33 421.95 300.00 421.98 C336.67 422.01 348.33 422.05 360.00 422.15 C371.67 422.25 365.98 422.28 370.00 422.60 C374.02 422.93 379.40 423.38 384.10 424.10 C388.80 424.82 393.48 425.48 398.20 426.90 C402.92 428.32 408.15 430.38 412.40 432.60 C416.65 434.82 420.17 437.13 423.70 440.20 C427.23 443.27 430.55 447.08 433.60 451.00 C436.65 454.92 439.42 459.32 442.00 463.70 C444.58 468.08 446.65 471.83 449.10 477.30 C451.55 482.77 454.02 489.07 456.70 496.50 C459.38 503.93 462.37 512.48 465.20 521.90 C468.03 531.32 470.88 542.17 473.70 553.00 C476.52 563.83 479.52 576.55 482.10 586.90 C484.68 597.25 487.32 607.47 489.20 615.10 C491.08 622.73 491.77 625.22 493.40 632.70 C495.03 640.18 498.07 655.45 499.00 660.00" fill="none" stroke="#ff0000" stroke-width="1.10" clip-path="url(#cb)"/>
<path d="M266.00 660.00 C267.37 655.45 271.65 641.58 274.20 632.70 C276.75 623.82 278.70 615.28 281.30 606.70 C283.90 598.12 286.98 588.97 289.80 581.20 C292.62 573.43 295.38 566.68 298.20 560.10 C301.02 553.52 303.87 547.60 306.70 541.70 C309.53 535.80 311.90 530.58 315.20 524.70 C318.50 518.82 322.73 512.05 326.50 506.40 C330.27 500.75 334.03 495.52 337.80 490.80 C341.57 486.08 345.33 481.87 349.10 478.10 C352.87 474.33 356.63 471.17 360.40 468.20 C364.17 465.23 367.93 462.60 371.70 460.30 C375.47 458.00 379.95 455.83 383.00 454.40 C386.05 452.97 387.93 452.42 390.00 451.70 C392.07 450.98 393.08 450.55 395.40 450.10 C397.72 449.65 401.07 448.97 403.90 449.00 C406.73 449.03 409.58 449.50 412.40 450.30 C415.22 451.10 417.98 452.17 420.80 453.80 C423.62 455.43 426.70 457.75 429.30 460.10 C431.90 462.45 434.05 464.95 436.40 467.90 C438.75 470.85 441.28 474.35 443.40 477.80 C445.52 481.25 447.50 485.02 449.10 488.60 C450.70 492.18 450.88 493.28 453.00 499.30 C455.12 505.32 458.83 515.28 461.80 524.70 C464.77 534.12 467.88 545.43 470.80 555.80 C473.72 566.17 476.70 577.02 479.30 586.90 C481.90 596.78 484.52 607.47 486.40 615.10 C488.28 622.73 489.17 625.22 490.60 632.70 C492.03 640.18 494.27 655.45 495.00 660.00" fill="none" stroke="#ff0000" stroke-width="1.10" clip-path="url(#cb)"/>
<path d="M354.00 660.00 C355.17 655.45 359.00 640.18 361.00 632.70 C363.00 625.22 364.22 621.32 366.00 615.10 C367.78 608.88 369.82 601.52 371.70 595.40 C373.58 589.28 375.42 584.05 377.30 578.40 C379.18 572.75 381.12 566.50 383.00 561.50 C384.88 556.50 386.77 552.22 388.60 548.40 C390.43 544.58 392.22 541.57 394.00 538.60 C395.78 535.63 396.72 533.53 399.30 530.60 C401.88 527.67 406.22 523.05 409.50 521.00 C412.78 518.95 415.83 518.15 419.00 518.30 C422.17 518.45 425.52 519.88 428.50 521.90 C431.48 523.92 434.08 526.63 436.90 530.40 C439.72 534.17 442.57 538.85 445.40 544.50 C448.23 550.15 451.07 556.77 453.90 564.30 C456.73 571.83 459.82 581.70 462.40 589.70 C464.98 597.70 467.52 606.48 469.40 612.30 C471.28 618.12 472.52 621.20 473.70 624.60 C474.88 628.00 474.62 626.80 476.50 632.70 C478.38 638.60 483.58 655.45 485.00 660.00" fill="none" stroke="#ff0000" stroke-width="1.10" clip-path="url(#cb)"/>
<path d="M77.00 421.65 C85.50 421.65 117.50 421.57 128.00 421.65 C138.50 421.72 111.33 422.02 140.00 422.10 C168.67 422.18 263.33 422.10 300.00 422.13 C336.67 422.16 346.92 422.19 360.00 422.30 C373.08 422.41 373.30 422.47 378.50 422.80 C383.70 423.13 387.55 423.77 391.20 424.30 C394.85 424.83 397.58 425.32 400.40 426.00 C403.22 426.68 405.52 427.33 408.10 428.40 C410.68 429.47 413.65 430.92 415.90 432.40 C418.15 433.88 419.60 435.38 421.60 437.30 C423.60 439.22 426.15 441.73 427.90 443.90 C429.65 446.07 430.57 447.87 432.10 450.30 C433.63 452.73 435.70 455.97 437.10 458.50 C438.50 461.03 439.35 462.93 440.50 465.50 C441.65 468.07 442.83 470.82 444.00 473.90 C445.17 476.98 446.32 480.23 447.50 484.00 C448.68 487.77 449.57 490.18 451.10 496.50 C452.63 502.82 454.92 512.95 456.70 521.90 C458.48 530.85 460.25 540.78 461.80 550.20 C463.35 559.62 464.73 569.47 466.00 578.40 C467.27 587.33 468.40 596.27 469.40 603.80 C470.40 611.33 471.43 618.78 472.00 623.60 C472.57 628.42 472.55 626.63 472.80 632.70 C473.05 638.77 473.38 655.45 473.50 660.00" fill="none" stroke="#0000ff" stroke-width="1.10" stroke-dasharray="10 6.5" clip-path="url(#cb)"/>
</svg>
</body></html>
